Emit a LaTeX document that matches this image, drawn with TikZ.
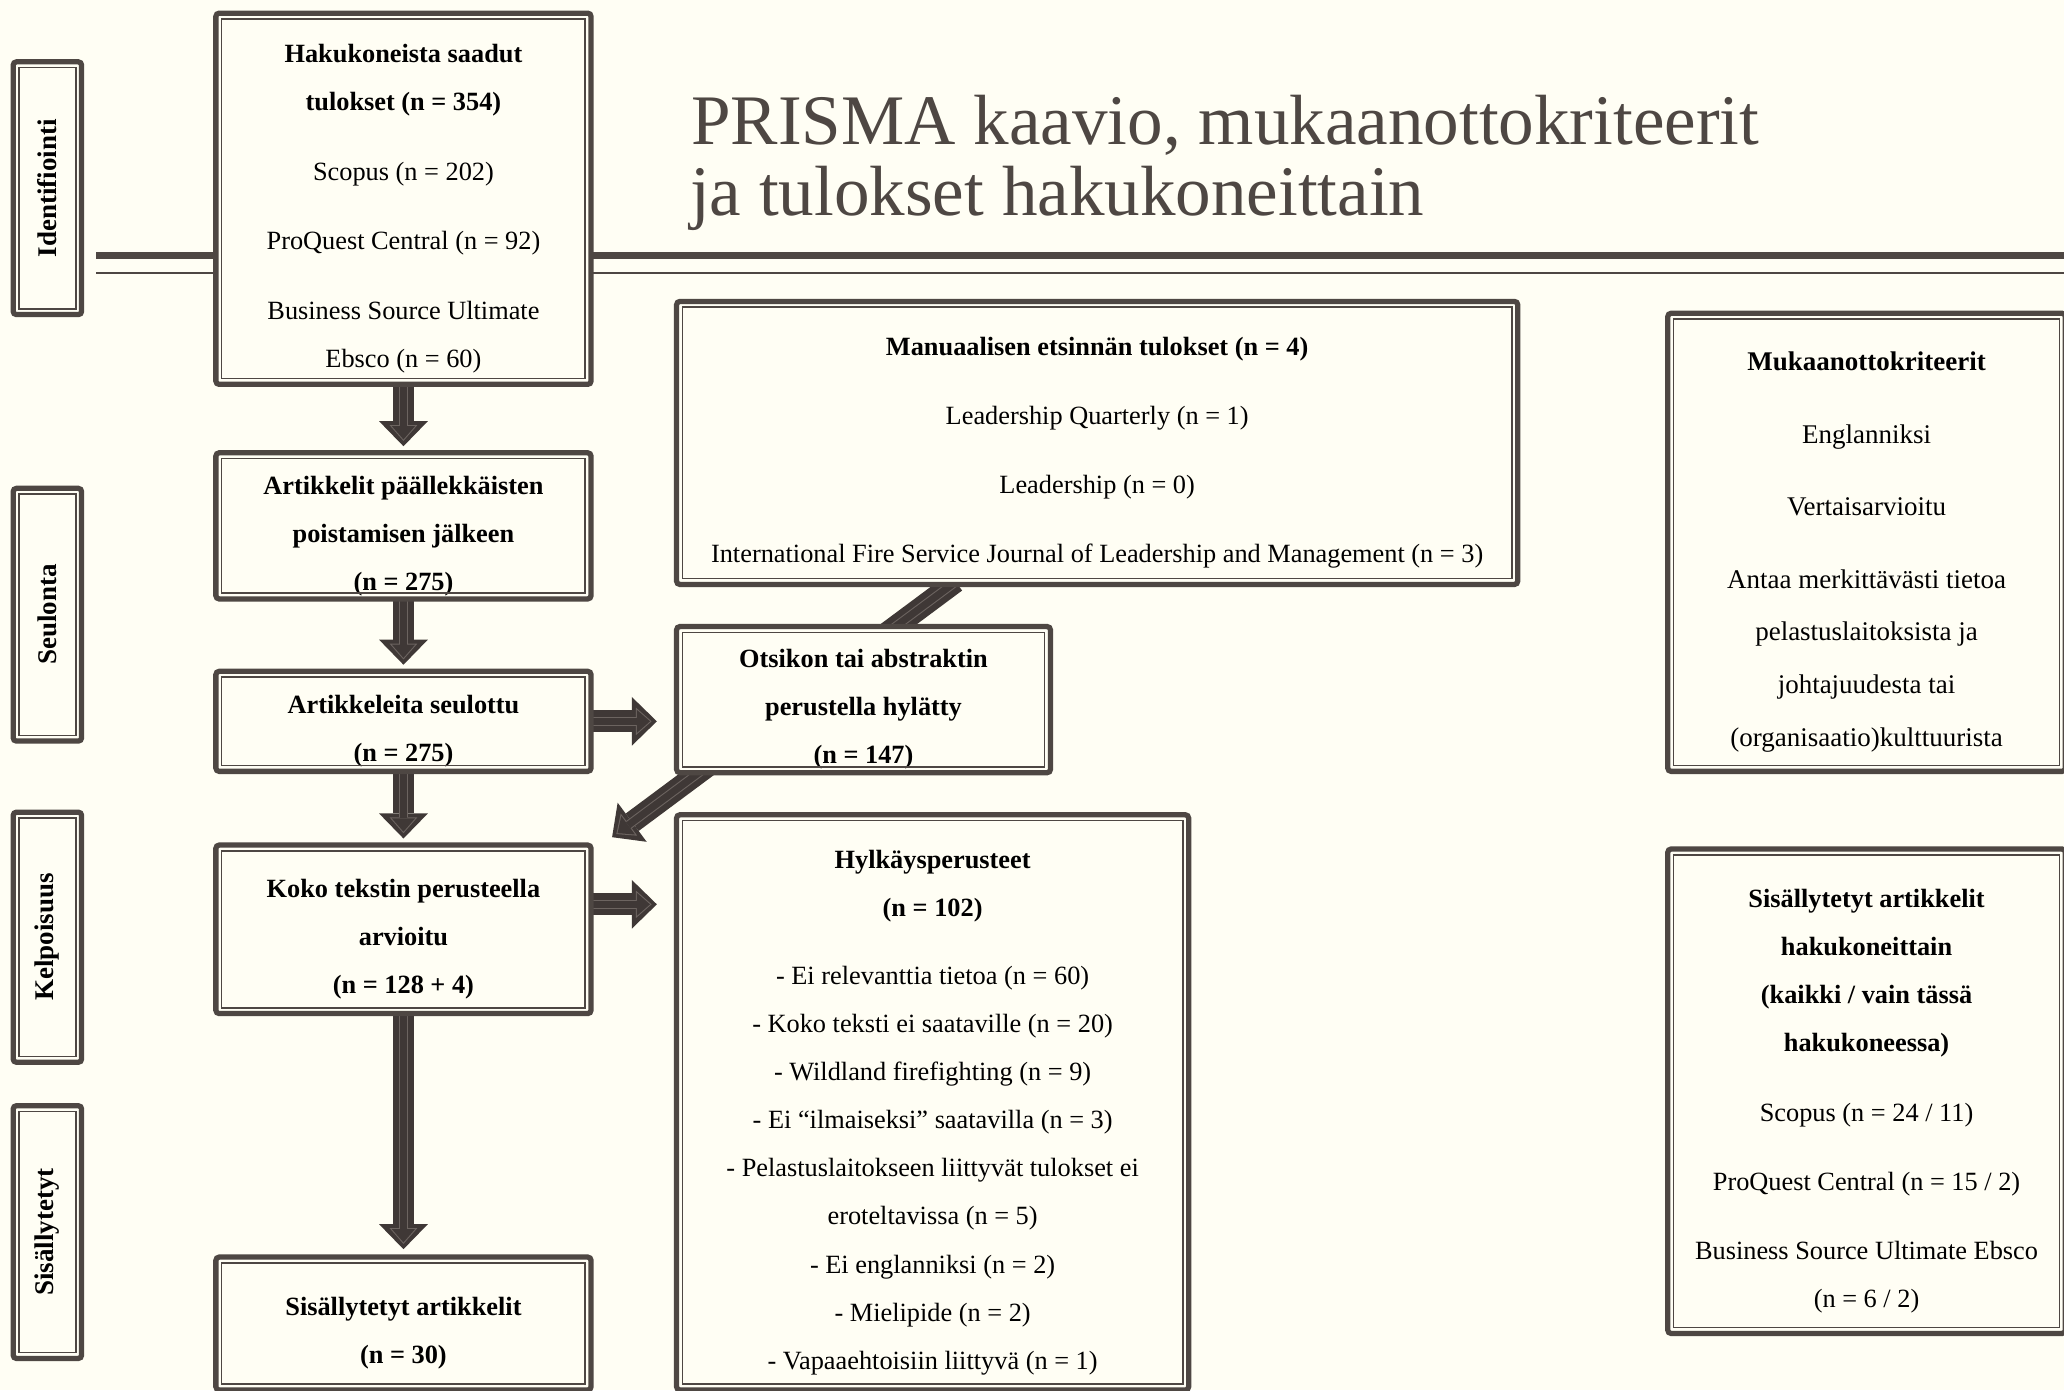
\documentclass[tikz,border=0pt]{standalone}
\usepackage{fontspec}
\setmainfont{Liberation Serif}
\usetikzlibrary{arrows.meta,calc}
\definecolor{bgc}{HTML}{FFFEF4}
\definecolor{frame}{HTML}{4E4743}
\definecolor{arrdark}{HTML}{3F3836}
\definecolor{arrin}{HTML}{6C6460}
\pgfdeclarelayer{back}
\pgfdeclarelayer{mid}
\pgfsetlayers{back,mid,main}
\newcommand\tg{\rule{0pt}{29pt}}
\newcommand\fat[3]{%
  \draw[arrA, shorten >=#1] (#2) -- (#3);
  \draw[arrB, shorten >=#1+4pt, shorten <=1pt] (#2) -- (#3);
  \draw[arrC, shorten >=#1+5.2pt, shorten <=1pt] (#2) -- (#3);}
\tikzset{
  pbox/.style={draw=frame, line width=4pt, rounded corners=2.5pt, fill=bgc, inner sep=0pt, outer sep=0pt, align=center, font=\fontsize{20}{36.5}\selectfont},
  sidebox/.style={pbox, minimum width=52pt, font=\fontsize{20.5}{24}\selectfont\bfseries},
  arrA/.style={draw=arrdark, line width=16.5pt, -{Triangle[length=19pt,width=37pt,line width=0pt]}},
  arrB/.style={draw=arrin, line width=7pt, -{Triangle[length=12pt,width=21pt,line width=0pt]}},
  arrC/.style={draw=arrdark, line width=5.4pt, -{Triangle[length=10pt,width=17.5pt,line width=0pt]}},
  titletext/.style={anchor=base west, inner sep=0pt, text=frame, font=\fontsize{54}{54}\selectfont},
}
\begin{document}
\begin{tikzpicture}[x=1pt,y=-1pt]
\useasboundingbox (0,0) rectangle (1568,1056);
\begin{pgfonlayer}{back}
  \fill[bgc] (0,0) rectangle (1568,1056);
\end{pgfonlayer}

% title
\node[titletext] (t1) at (525,110) {PRISMA kaavio, mukaanottokriteerit};
\node[titletext] (t2) at (524,164) {ja tulokset hakukoneittain};

% side labels
\node[sidebox, minimum height=192pt] (side1) at (36,143) {\rotatebox{90}{Identifiointi}};
\node[sidebox, minimum height=192pt] (side2) at (36,467) {\rotatebox{90}{Seulonta}};
\node[sidebox, minimum height=190pt] (side3) at (36,712) {\rotatebox{90}{Kelpoisuus}};
\node[sidebox, minimum height=192pt] (side4) at (36,936) {\rotatebox{90}{Sisällytetyt}};

% main column
\node[pbox, minimum width=285pt, minimum height=282pt] (b1) at (306.5,151)
  {\tg\textbf{Hakukoneista saadut}\\\textbf{tulokset (n = 354)}\\[16.5pt]Scopus (n = 202)\\[16.5pt]ProQuest Central (n = 92)\\[16.5pt]Business Source Ultimate\\Ebsco (n = 60)};
\node[pbox, minimum width=285pt, minimum height=111pt] (b2) at (306.5,399.5)
  {\tg\textbf{Artikkelit päällekkäisten}\\\textbf{poistamisen jälkeen}\\\textbf{(n = 275)}};
\node[pbox, minimum width=285pt, minimum height=76pt] (b3) at (306.5,548)
  {\tg\textbf{Artikkeleita seulottu}\\\textbf{(n = 275)}};
\node[pbox, minimum width=285pt, minimum height=128pt] (b4) at (306.5,706)
  {\tg\textbf{Koko tekstin perusteella}\\\textbf{arvioitu}\\\textbf{(n = 128 + 4)}};
\node[pbox, minimum width=285pt, minimum height=101pt] (b5) at (306.5,1005.5)
  {\tg\textbf{Sisällytetyt artikkelit}\\\textbf{(n = 30)}};

% middle column
\node[pbox, minimum width=639pt, minimum height=215pt] (man) at (833.5,336.5)
  {\tg\textbf{Manuaalisen etsinnän tulokset (n = 4)}\\[16pt]Leadership Quarterly (n = 1)\\[16pt]Leadership (n = 0)\\[16pt]International Fire Service Journal of Leadership and Management (n = 3)};
\node[pbox, minimum width=284pt, minimum height=111pt] (ots) at (656,531.5)
  {\tg\textbf{Otsikon tai abstraktin}\\\textbf{perustella hylätty}\\\textbf{(n = 147)}};
\node[pbox, minimum width=389pt, minimum height=437pt] (hyl) at (708.5,837.5)
  {\tg\textbf{Hylkäysperusteet}\\\textbf{(n = 102)}\\[15.5pt]- Ei relevanttia tietoa (n = 60)\\- Koko teksti ei saataville (n = 20)\\- Wildland firefighting (n = 9)\\- Ei “ilmaiseksi” saatavilla (n = 3)\\- Pelastuslaitokseen liittyvät tulokset ei\\eroteltavissa (n = 5)\\- Ei englanniksi (n = 2)\\- Mielipide (n = 2)\\- Vapaaehtoisiin liittyvä (n = 1)};

% right column
\node[pbox, minimum width=302pt, minimum height=348pt, font=\fontsize{20.5}{40}\selectfont] (muk) at (1418,412)
  {\tg\textbf{Mukaanottokriteerit}\\[15pt]Englanniksi\\[15pt]Vertaisarvioitu\\[15pt]Antaa merkittävästi tietoa\\pelastuslaitoksista ja\\johtajuudesta tai\\(organisaatio)kulttuurista};
\node[pbox, minimum width=302pt, minimum height=368pt] (sis) at (1418,829)
  {\tg\textbf{Sisällytetyt artikkelit}\\\textbf{hakukoneittain}\\\textbf{(kaikki / vain tässä}\\\textbf{hakukoneessa)}\\[16pt]Scopus (n = 24 / 11)\\[16pt]ProQuest Central (n = 15 / 2)\\[16pt]Business Source Ultimate Ebsco\\(n = 6 / 2)};

% inner frame lines
\foreach \n in {side1,side2,side3,side4,b1,b2,b3,b4,b5,man,ots,hyl,muk,sis}
  \draw[frame, line width=1.2pt] ([shift={(4.4pt,4.4pt)}]\n.south west) rectangle ([shift={(-4.4pt,-4.4pt)}]\n.north east);

% connector helper coordinates
\coordinate (a3) at (b3.east);
\coordinate (o3) at (a3 -| ots.west);
\coordinate (a4) at ([yshift=19pt]b4.east);
\coordinate (h4) at (a4 -| hyl.west);
\coordinate (dstart) at (726,442);
\coordinate (dend) at (465,636);

\begin{pgfonlayer}{mid}
  \draw[frame, line width=5.5pt] (73,194) -- (1572,194);
  \draw[frame, line width=1.6pt] (73,207.5) -- (1572,207.5);
  \fat{5pt}{b1.south}{b2.north}
  \fat{5pt}{b2.south}{b3.north}
  \fat{5pt}{b3.south}{b4.north}
  \fat{6pt}{b4.south}{b5.north}
  \fat{15pt}{a3}{o3}
  \fat{15pt}{a4}{h4}
  \fat{0pt}{dstart}{dend}
\end{pgfonlayer}
\end{tikzpicture}
\end{document}
